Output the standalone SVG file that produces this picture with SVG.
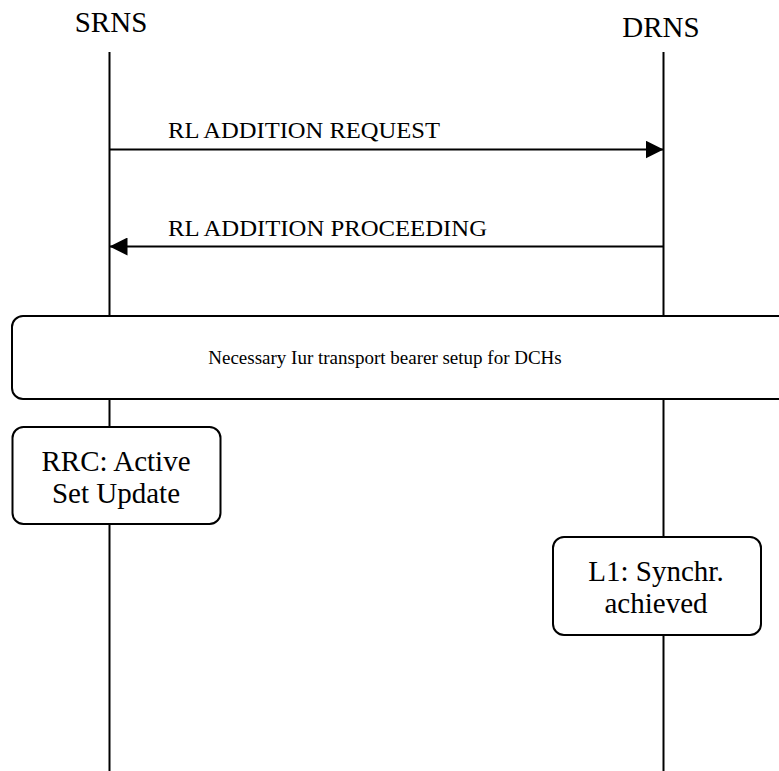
<svg xmlns="http://www.w3.org/2000/svg" width="779" height="771" viewBox="0 0 779 771">
<defs>
<style>
text{font-family:"Liberation Serif","Times New Roman",serif;fill:#000}
.life{stroke:#000;stroke-width:2;fill:none}
.msg{stroke:#000;stroke-width:2;fill:none}
.box{stroke:#000;stroke-width:2;fill:#fff}
.hdr{font-size:29px}
.lbl{font-size:24px}
.btxt{font-size:29px}
</style>
<marker id="ah" markerWidth="18" markerHeight="18" refX="18" refY="9" orient="auto" markerUnits="userSpaceOnUse">
<path d="M0,0 L18,9 L0,18 Z" fill="#000"/>
</marker>
</defs>
<rect width="779" height="771" fill="#fff"/>
<g id="lifelines">
<line class="life" x1="109.5" y1="52" x2="109.5" y2="316"/>
<line class="life" x1="109.5" y1="399" x2="109.5" y2="427"/>
<line class="life" x1="109.5" y1="524" x2="109.5" y2="771"/>
<line class="life" x1="663.5" y1="52" x2="663.5" y2="316"/>
<line class="life" x1="663.5" y1="399" x2="663.5" y2="537"/>
<line class="life" x1="663.5" y1="635" x2="663.5" y2="771"/>
</g>
<g id="SRNS"><text class="hdr" x="111" y="32" text-anchor="middle">SRNS</text></g>
<g id="DRNS"><text class="hdr" x="661" y="37" text-anchor="middle">DRNS</text></g>
<g id="connectors">
<line class="msg" x1="109.5" y1="149.5" x2="663.5" y2="149.5" marker-end="url(#ah)"/>
<text class="lbl" x="168" y="138" textLength="272" lengthAdjust="spacingAndGlyphs">RL ADDITION REQUEST</text>
<line class="msg" x1="663.5" y1="246.5" x2="109.5" y2="246.5" marker-end="url(#ah)"/>
<text class="lbl" x="168" y="236" textLength="319" lengthAdjust="spacingAndGlyphs">RL ADDITION PROCEEDING</text>
</g>
<g id="iur-setup">
<rect class="box" x="12" y="316" width="790" height="83" rx="11" ry="11"/>
<text x="385" y="364" font-size="19" text-anchor="middle">Necessary Iur transport bearer setup for DCHs</text>
</g>
<g id="rrc">
<rect class="box" x="12.5" y="427" width="208" height="97" rx="11" ry="11"/>
<text class="btxt" x="116" y="471" text-anchor="middle">RRC: Active</text>
<text class="btxt" x="116" y="503" text-anchor="middle">Set Update</text>
</g>
<g id="l1">
<rect class="box" x="553" y="537" width="208" height="98" rx="11" ry="11"/>
<text class="btxt" x="656" y="581" text-anchor="middle">L1: Synchr.</text>
<text class="btxt" x="656" y="613" text-anchor="middle">achieved</text>
</g>
</svg>
